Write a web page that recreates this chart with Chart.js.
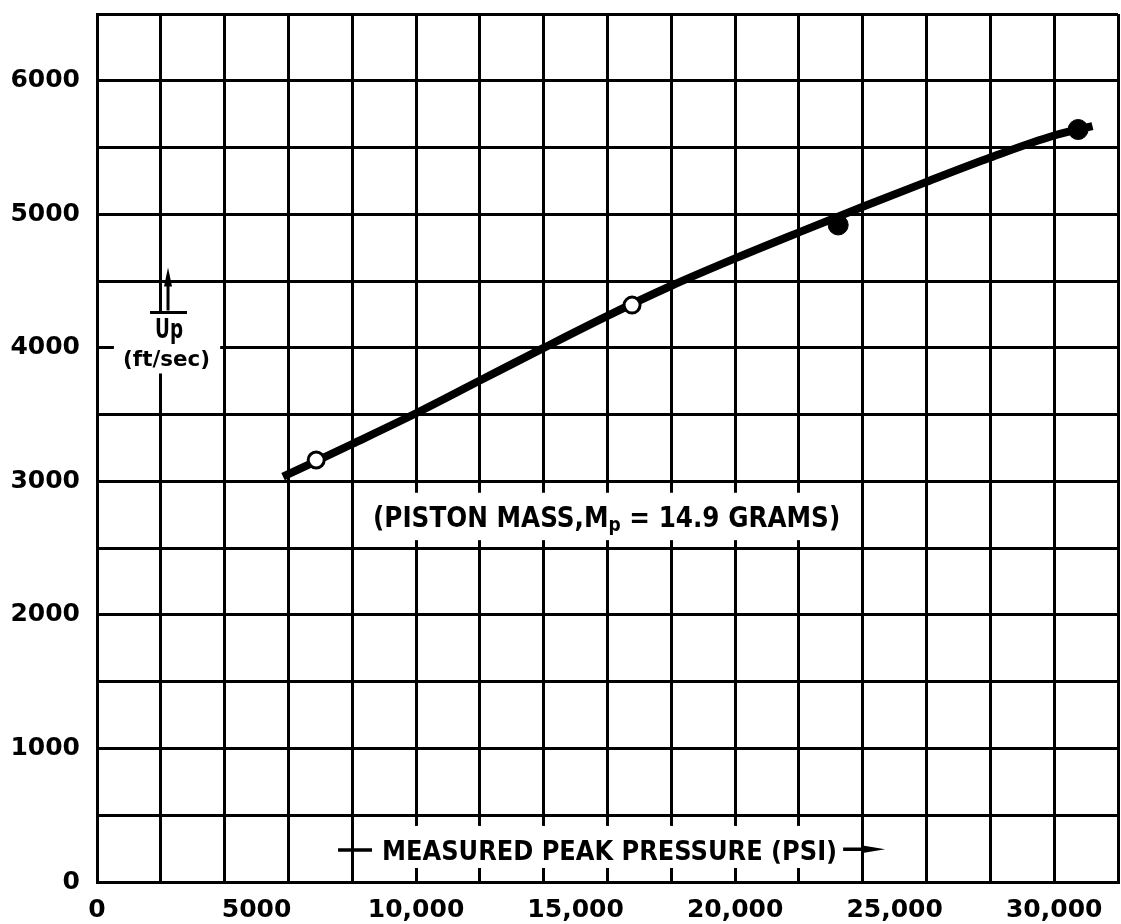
<!DOCTYPE html>
<html>
<head>
<meta charset="utf-8">
<title>Piston velocity vs measured peak pressure</title>
<script src="https://cdn.jsdelivr.net/npm/chart.js@4.4.1/dist/chart.umd.min.js"></script>
<style>
  html, body { margin: 0; padding: 0; background: #fff; }
  #chart { display: block; }
</style>
</head>
<body>
<canvas id="chart" width="1121" height="924"></canvas>
<script>
// --- Data ---
const xTickValues = [0, 5000, 10000, 15000, 20000, 25000, 30000];
const xTickLabels = ['0', '5000', '10,000', '15,000', '20,000', '25,000', '30,000'];

// faired curve through the test points
const curvePsi = [5830, 8000, 10000, 12000, 14000, 16000, 18000, 20000, 22000, 24000, 26000, 28000, 30000, 31200];
const curveUp  = [3035, 3280, 3510, 3755, 4000, 4240, 4465, 4670, 4865, 5056, 5243, 5425, 5590, 5660];

// test points (open and solid symbols)
const openPsi  = [6870, 16770];
const openUp   = [3160, 4320];
const solidPsi = [23230, 30750];
const solidUp  = [4920, 5635];

const zip = (xs, ys) => xs.map((x, i) => ({ x, y: ys[i] }));

const tickFont = { family: 'DejaVu Sans', size: 25, weight: 'bold' };

// --- Helpers ---
// draws a run of text pieces squeezed/stretched to fit between left and right
function drawFitted(ctx, parts, left, right, baseline) {
    let total = 0;
    parts.forEach(p => { ctx.font = p.font; p.w = ctx.measureText(p.text).width; total += p.w; });
    ctx.save();
    ctx.translate(left, baseline);
    ctx.scale((right - left) / total, 1);
    let cx = 0;
    parts.forEach(p => {
        ctx.font = p.font;
        ctx.fillText(p.text, cx, p.dy || 0);
        cx += p.w;
    });
    ctx.restore();
}

// --- Figure text plugin (labels printed on white patches over the grid) ---
const figureText = {
    id: 'figureText',
    afterDatasetsDraw(chart) {
        const { ctx, scales: { x, y } } = chart;
        const px = v => x.getPixelForValue(v);
        const py = v => y.getPixelForValue(v);
        const patch = (x0, x1, y0, y1) => ctx.fillRect(px(x0), py(y1), px(x1) - px(x0), py(y0) - py(y1));

        ctx.save();
        ctx.fillStyle = '#fff';
        patch(8200, 23600, 2560, 2915);
        patch(8700, 23300, 105, 420);
        patch(530, 3860, 3808, 4257);

        ctx.fillStyle = '#000';
        ctx.strokeStyle = '#000';
        ctx.textBaseline = 'alphabetic';

        // piston mass note
        drawFitted(ctx, [
            { text: '(PISTON MASS,M', font: 'bold 29px "DejaVu Sans"' },
            { text: 'p', font: 'bold 20px "DejaVu Sans"', dy: 4 },
            { text: ' = 14.9 GRAMS)', font: 'bold 29px "DejaVu Sans"' }
        ], px(8652), px(23292), py(2656));

        // x axis title with its dash and arrow
        drawFitted(ctx, [{ text: 'MEASURED PEAK PRESSURE (PSI)', font: 'bold 27px "DejaVu Sans"' }],
            px(8934), px(23197), py(165));
        ctx.lineWidth = 3.5;
        ctx.beginPath();
        ctx.moveTo(px(7555), py(239));
        ctx.lineTo(px(8620), py(239));
        ctx.moveTo(px(23385), py(245));
        ctx.lineTo(px(24300), py(245));
        ctx.stroke();
        ctx.beginPath();
        ctx.moveTo(px(23950), py(245) - 4);
        ctx.lineTo(px(24702), py(245));
        ctx.lineTo(px(23950), py(245) + 4);
        ctx.closePath();
        ctx.fill();

        // y axis title: arrow, Up with overbar, units
        ctx.lineWidth = 3;
        ctx.beginPath();
        ctx.moveTo(px(2226), py(4279));
        ctx.lineTo(px(2226), py(4540));
        ctx.moveTo(px(1661), py(4264));
        ctx.lineTo(px(2821), py(4264));
        ctx.stroke();
        ctx.beginPath();
        ctx.moveTo(px(2226), py(4601));
        ctx.lineTo(px(2226) - 4, py(4460));
        ctx.lineTo(px(2226) + 4, py(4460));
        ctx.closePath();
        ctx.fill();
        drawFitted(ctx, [{ text: 'Up', font: 'bold 26px "DejaVu Sans"' }], px(1818), px(2696), py(4077));
        drawFitted(ctx, [{ text: '(ft/sec)', font: 'bold 21px "DejaVu Sans"' }], px(815), px(3542), py(3865));
        ctx.restore();
    }
};

// --- Chart ---
new Chart(document.getElementById('chart'), {
    type: 'scatter',
    data: {
        datasets: [
            {
                label: 'open points',
                data: zip(openPsi, openUp),
                pointRadius: 8,
                pointBorderWidth: 3,
                pointBackgroundColor: '#fff',
                pointBorderColor: '#000',
                order: 1
            },
            {
                label: 'solid points',
                data: zip(solidPsi, solidUp),
                pointRadius: 10,
                pointBorderWidth: 1,
                pointBackgroundColor: '#000',
                pointBorderColor: '#000',
                order: 1
            },
            {
                label: 'curve',
                data: zip(curvePsi, curveUp),
                showLine: true,
                borderColor: '#000',
                borderWidth: 8,
                pointRadius: 0,
                cubicInterpolationMode: 'monotone',
                order: 2
            }
        ]
    },
    options: {
        responsive: false,
        animation: false,
        devicePixelRatio: 1,
        layout: { autoPadding: false, padding: { top: 14, right: 3, left: 0, bottom: 0 } },
        plugins: { legend: { display: false }, tooltip: { enabled: false } },
        scales: {
            x: {
                type: 'linear', position: 'bottom', min: 0, max: 32000,
                ticks: { display: false, stepSize: 2000 },
                grid: { color: '#000', lineWidth: 3, drawTicks: false },
                border: { color: '#000', width: 3 },
                afterFit: s => { s.height = 0; s.paddingLeft = 0; s.paddingRight = 0; }
            },
            xLabels: {
                type: 'linear', position: 'bottom', min: 0, max: 32000,
                grid: { display: false, drawTicks: false },
                border: { display: false },
                afterBuildTicks: s => { s.ticks = xTickValues.map(v => ({ value: v })); },
                ticks: {
                    autoSkip: false, maxRotation: 0, padding: 13,
                    color: '#000', font: tickFont,
                    callback: (v, i) => xTickLabels[i]
                },
                afterFit: s => { s.height = 42; s.paddingLeft = 0; s.paddingRight = 0; }
            },
            y: {
                min: 0, max: 6500,
                ticks: {
                    stepSize: 500, padding: 17, color: '#000', font: tickFont,
                    callback: v => (v % 1000 === 0 ? String(v) : '')
                },
                grid: { color: '#000', lineWidth: 3, drawTicks: false },
                border: { color: '#000', width: 3 },
                afterFit: s => { s.width = 97; s.paddingTop = 0; s.paddingBottom = 0; }
            }
        }
    },
    plugins: [figureText]
});
</script>
</body>
</html>
